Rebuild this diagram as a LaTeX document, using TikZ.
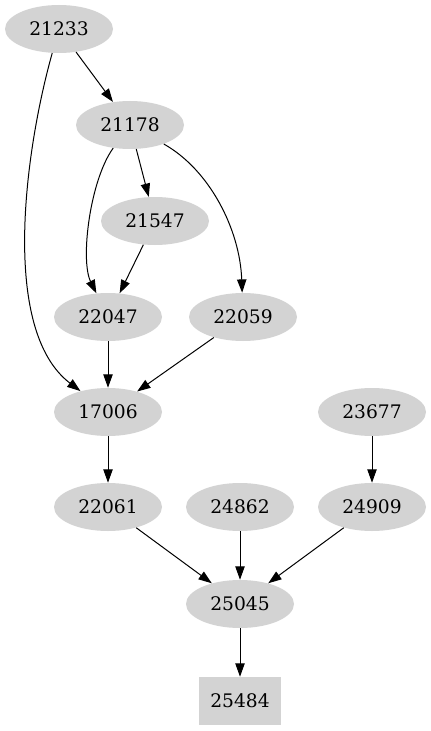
\documentclass[tikz,border=0pt]{standalone}
\usepackage{fontspec}
\setmainfont{DejaVu Serif}
\usetikzlibrary{shapes.geometric,arrows.meta}
\definecolor{nodegray}{RGB}{211,211,211}
\tikzset{
  ell/.style={ellipse,fill=nodegray,draw=none,minimum width=81pt,minimum height=36pt,inner sep=0pt,font=\fontsize{14pt}{16pt}\selectfont},
  boxnode/.style={rectangle,fill=nodegray,draw=none,minimum width=62pt,minimum height=36pt,inner sep=0pt,font=\fontsize{14pt}{16pt}\selectfont},
  edge/.style={draw=black,line width=0.75pt,-{Triangle[length=10pt,width=7pt]}}
}
\begin{document}
\begin{tikzpicture}[x=0.75pt,y=-0.75pt]
\useasboundingbox (0,0) rectangle (431,731);
\node[ell] (n21233) at (59,29) {21233};
\node[ell] (n21178) at (130,125) {21178};
\node[ell] (n21547) at (155,221) {21547};
\node[ell] (n22047) at (108,317) {22047};
\node[ell] (n22059) at (243,317) {22059};
\node[ell] (n17006) at (108,412) {17006};
\node[ell] (n23677) at (372,412) {23677};
\node[ell] (n22061) at (108,507) {22061};
\node[ell] (n24862) at (240,507) {24862};
\node[ell] (n24909) at (372,507) {24909};
\node[ell] (n25045) at (240,604) {25045};
\node[boxnode] (n25484) at (240,701) {25484};

\draw[edge] (n21233) -- (n21178);
\draw[edge] (n21233) .. controls (25,150) and (0,330) .. (n17006);
\draw[edge] (n21178) .. controls (90,180) and (80,260) .. (n22047);
\draw[edge] (n21178) -- (n21547);
\draw[edge] (n21178) .. controls (210,170) and (240,230) .. (n22059);
\draw[edge] (n21547) -- (n22047);
\draw[edge] (n22047) -- (n17006);
\draw[edge] (n22059) -- (n17006);
\draw[edge] (n17006) -- (n22061);
\draw[edge] (n23677) -- (n24909);
\draw[edge] (n22061) -- (n25045);
\draw[edge] (n24862) -- (n25045);
\draw[edge] (n24909) -- (n25045);
\draw[edge] (n25045) -- (n25484);
\end{tikzpicture}
\end{document}
